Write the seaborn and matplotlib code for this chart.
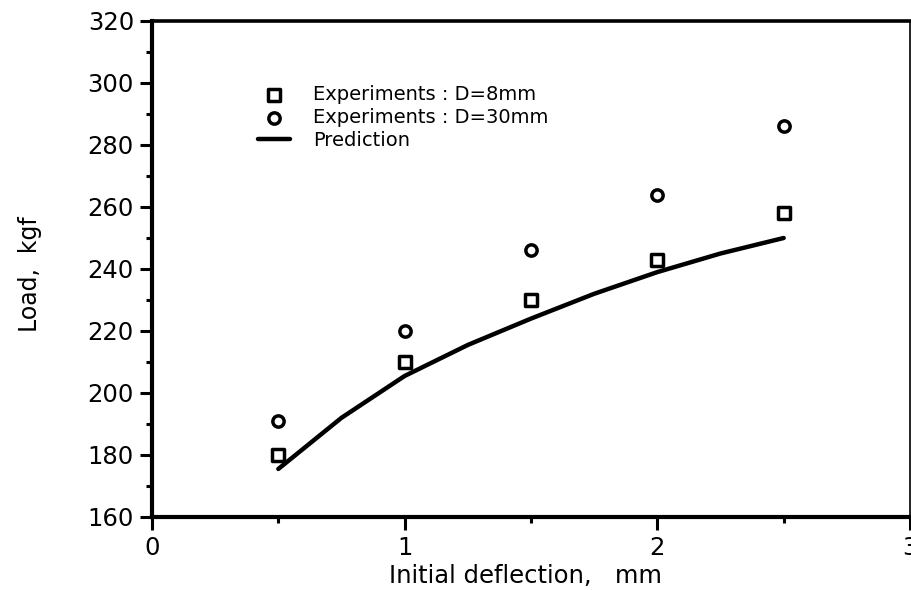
import numpy as np
import pandas as pd
import seaborn as sns
import matplotlib.pyplot as plt
from matplotlib.ticker import MultipleLocator, FixedLocator

# ---- data ----
deflection = [0.5, 1.0, 1.5, 2.0, 2.5]
load_d8 = [180, 210, 230, 243, 258]
load_d30 = [191, 220, 246, 264, 286]
pred_x = [0.5, 0.75, 1.0, 1.25, 1.5, 1.75, 2.0, 2.25, 2.5]
pred_y = [175.5, 192, 205.5, 215.5, 224, 232, 239, 245, 250]

x_ticks = [0, 1, 2, 3]
y_ticks = [160, 180, 200, 220, 240, 260, 280, 300, 320]

lbl_d8 = "Experiments : D=8mm"
lbl_d30 = "Experiments : D=30mm"
lbl_pred = "Prediction"

sns.set_theme(style="ticks")
plt.rcParams['font.family'] = ['DejaVu Sans']
plt.rcParams['text.color'] = 'black'
plt.rcParams['axes.labelcolor'] = 'black'

fig = plt.figure(figsize=(9.12, 5.9), dpi=100)
ax = fig.add_axes([152/912, 1-517/590, (910-152)/912, (517-21)/590])

sns.lineplot(x=pred_x, y=pred_y, ax=ax, color='black', linewidth=3.2,
             label=lbl_pred, estimator=None, sort=False)
sns.scatterplot(x=deflection, y=load_d8, ax=ax, marker='s', s=72,
                color='white', edgecolor='black', linewidth=2.5, label=lbl_d8, zorder=3)
sns.scatterplot(x=deflection, y=load_d30, ax=ax, marker='o', s=66,
                color='white', edgecolor='black', linewidth=2.5, label=lbl_d30, zorder=3)

ax.set_xlim(0, 3)
ax.set_ylim(160, 320)
ax.xaxis.set_major_locator(FixedLocator(x_ticks))
ax.yaxis.set_major_locator(FixedLocator(y_ticks))
ax.xaxis.set_minor_locator(MultipleLocator(0.5))
ax.yaxis.set_minor_locator(MultipleLocator(10))

ax.tick_params(which='major', direction='out', length=9, width=2.2,
               labelsize=17.5, color='black', labelcolor='black')
ax.tick_params(axis='y', which='major', pad=4)
ax.tick_params(axis='x', which='major', pad=5)
ax.tick_params(which='minor', direction='out', length=4, width=2.2, color='black')

for side, lw in [('left', 3), ('bottom', 3), ('top', 2.6), ('right', 1.2)]:
    ax.spines[side].set_linewidth(lw)
    ax.spines[side].set_color('black')
    ax.spines[side].set_visible(True)

ax.set_xlabel("Initial deflection,   mm", fontsize=17.5, color='black')
ax.set_ylabel("Load,  kgf", fontsize=17, color='black')
ax.xaxis.set_label_coords(0.493, -0.094)
ax.yaxis.set_label_coords(-0.145, 0.49)

handles, labels = ax.get_legend_handles_labels()
order = [labels.index(lbl_d8), labels.index(lbl_d30), labels.index(lbl_pred)]
leg = ax.legend([handles[i] for i in order], [labels[i] for i in order],
                loc='upper left', bbox_to_anchor=(258/912, 1-85/590),
                bbox_transform=fig.transFigure, frameon=False, fontsize=14,
                handlelength=1.65, handletextpad=1.2, labelspacing=0.2,
                borderpad=0, borderaxespad=0, markerscale=1.0)
for t in leg.get_texts():
    t.set_color('black')

fig.savefig("out.png", dpi=100)
